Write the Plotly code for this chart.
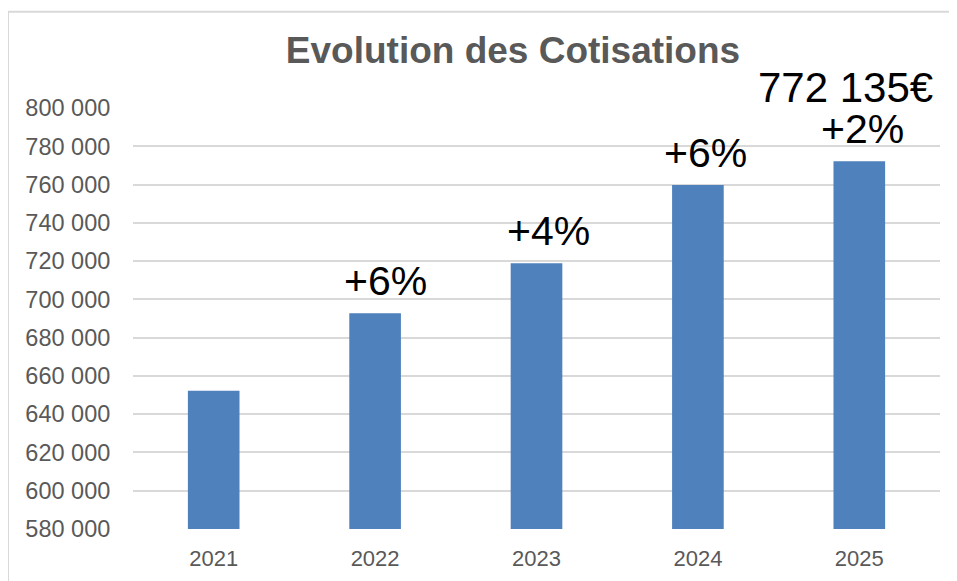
import plotly.graph_objects as go

years = ["2021", "2022", "2023", "2024", "2025"]
cotisations = [652200, 692700, 718900, 759800, 772135]
pct_labels = ["", "+6%", "+4%", "+6%", "+2%"]
total_label = "772 135€"
title_text = "Evolution des Cotisations"

FONT = "Arial, Liberation Sans, sans-serif"
GRAY = "#595959"
GRID = "#d9d9d9"

# the page body has an 8px margin, so the figure is sized to fill the rest
W, H = 949, 573
ML, MR, MT, MB = 125, 17, 99.5, 51.5
PW, PH = W - ML - MR, H - MT - MB

fig = go.Figure(go.Bar(
    x=years, y=cotisations,
    marker=dict(color="#4f81bd", line=dict(width=0)),
    width=0.32,
))

# category axis: annotations are placed by category index
label_xshift = [0, 10, 12, 8, 3]
for i, (v, t) in enumerate(zip(cotisations, pct_labels)):
    if not t:
        continue
    fig.add_annotation(x=i, y=v, text=t, showarrow=False, yanchor="bottom",
                       xshift=label_xshift[i], yshift=7,
                       font=dict(family=FONT, size=41, color="#000000"))
fig.add_annotation(x=len(years) - 1, y=cotisations[-1], text=total_label, showarrow=False,
                   yanchor="bottom", xshift=-14, yshift=48,
                   font=dict(family=FONT, size=42, color="#000000"))

fig.update_layout(
    width=W, height=H,
    margin=dict(l=ML, r=MR, t=MT, b=MB, autoexpand=False),
    paper_bgcolor="white", plot_bgcolor="white",
    separators=", ",
    showlegend=False,
    title=dict(text=f"<b>{title_text}</b>", x=505/W, xanchor="center",
               y=1 - 42/H, yanchor="middle", yref="container",
               font=dict(family=FONT, size=37, color=GRAY)),
    xaxis=dict(type="category", range=[-0.5, len(years) - 0.5],
               showgrid=False, showline=False, zeroline=False,
               ticks="outside", ticklen=10, tickcolor="rgba(0,0,0,0)",
               tickfont=dict(family=FONT, size=22, color=GRAY)),
    yaxis=dict(range=[580000, 800000], dtick=20000, tickformat=",d",
               showgrid=True, gridcolor=GRID, gridwidth=1.5,
               zeroline=False, showline=False,
               ticks="outside", ticklen=17, tickcolor="rgba(0,0,0,0)",
               tickfont=dict(family=FONT, size=23.5, color=GRAY)),
    shapes=[
        dict(type="line", xref="paper", yref="paper",
             x0=-125/PW, x1=1.1, y0=1 + 96.5/PH, y1=1 + 96.5/PH,
             line=dict(color=GRID, width=2)),
        dict(type="line", xref="paper", yref="paper",
             x0=-125/PW, x1=-125/PW, y0=1 + 96.5/PH, y1=-0.2,
             line=dict(color=GRID, width=2)),
    ],
)

fig.write_html("out.html")
